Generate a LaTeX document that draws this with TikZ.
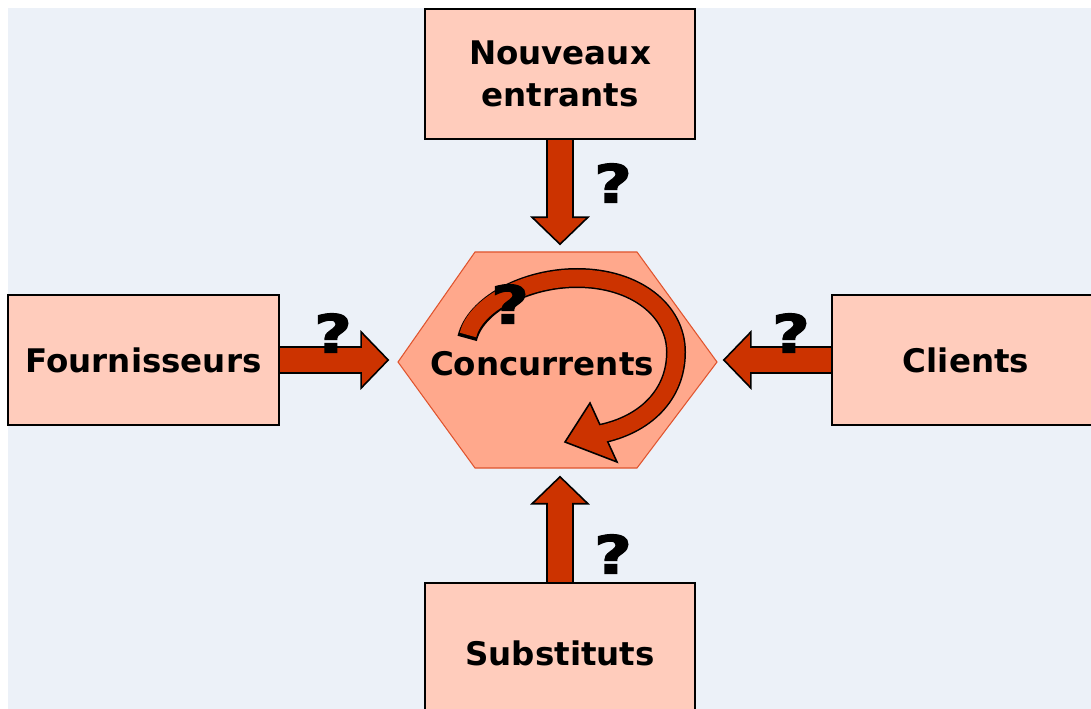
\documentclass[tikz,border=0pt]{standalone}
\usepackage{fontspec}
\setmainfont{DejaVu Sans}
\newfontfamily\qfont[FakeBold=2]{DejaVu Sans Bold}
\definecolor{backcol}{RGB}{236,241,248}
\definecolor{boxcol}{RGB}{255,204,188}
\definecolor{hexcol}{RGB}{255,168,140}
\definecolor{hexline}{RGB}{224,84,46}
\definecolor{rust}{RGB}{204,51,0}
\tikzstyle{force} = [rectangle, draw=black, line width=1.4pt, fill=boxcol, minimum width=5.4cm, minimum height=2.6cm, align=center, font=\bfseries\fontsize{18.5}{24}\selectfont]
\tikzstyle{barrow} = [fill=rust, draw=black, line width=0.9pt, line join=miter]
\tikzstyle{quest} = [inner sep=0pt, font=\qfont\fontsize{30}{30}\selectfont]
% block arrow: start anchor, angle, length
\newcommand{\blockarrow}[3]{%
  \filldraw[barrow, shift={(#1)}, rotate=#2] (0,13) -- ({#3-27},13) -- ({#3-27},28) -- (#3,0) -- ({#3-27},-28) -- ({#3-27},-13) -- (0,-13);
}

\begin{document}
\begin{tikzpicture}[x=0.02cm, y=-0.02cm]
    \useasboundingbox (0,0) rectangle (1091,709);
    \fill[backcol] (8,8) rectangle (1091,709);

    % the five forces
    \node (ne) [force] at (560,74) {Nouveaux\\entrants};
    \node (fo) [force, minimum width=5.42cm] at (143.5,360) {Fournisseurs};
    \node (cl) [force, minimum width=5.36cm] at (966,360) {Clients};
    \node (su) [force, minimum height=2.8cm] at (560,653) {Substituts};

    \blockarrow{ne.south}{-90}{104}
    \blockarrow{su.north}{90}{105}
    \blockarrow{fo.east}{0}{108}
    \blockarrow{cl.west}{180}{107}

    % rivalry
    \filldraw[fill=hexcol, draw=hexline, line width=0.6pt] (398,362) -- (475,252) -- (637,252) -- (717,362) -- (637,468) -- (475,468) -- cycle;
    \node (co) [font=\bfseries\fontsize{18.5}{24}\selectfont] at (542,364) {Concurrents};

    \draw[black, line width=0.4cm, shorten <=-2] (468,335) .. controls (475,305) and (525,278) .. (577,278) .. controls (635,278) and (676,310) .. (676,352) .. controls (676,395) and (645,425) .. (600,434);
    \filldraw[barrow] (565,442) -- (590,403) -- (617,462) -- cycle;
    \draw[rust, line width=0.34cm] (468,335) .. controls (475,305) and (525,278) .. (577,278) .. controls (635,278) and (676,310) .. (676,352) .. controls (676,395) and (645,425) .. (600,434);

    \node (q1) [quest] at (613,183) {\scalebox{1.25}[1]{?}};
    \node (q2) [quest] at (333,333) {\scalebox{1.25}[1]{?}};
    \node (q3) [quest] at (791,333) {\scalebox{1.25}[1]{?}};
    \node (q4) [quest] at (613,554) {\scalebox{1.25}[1]{?}};
    \node (q5) [quest] at (510,304) {\scalebox{1.25}[1]{?}};
\end{tikzpicture}
\end{document}
